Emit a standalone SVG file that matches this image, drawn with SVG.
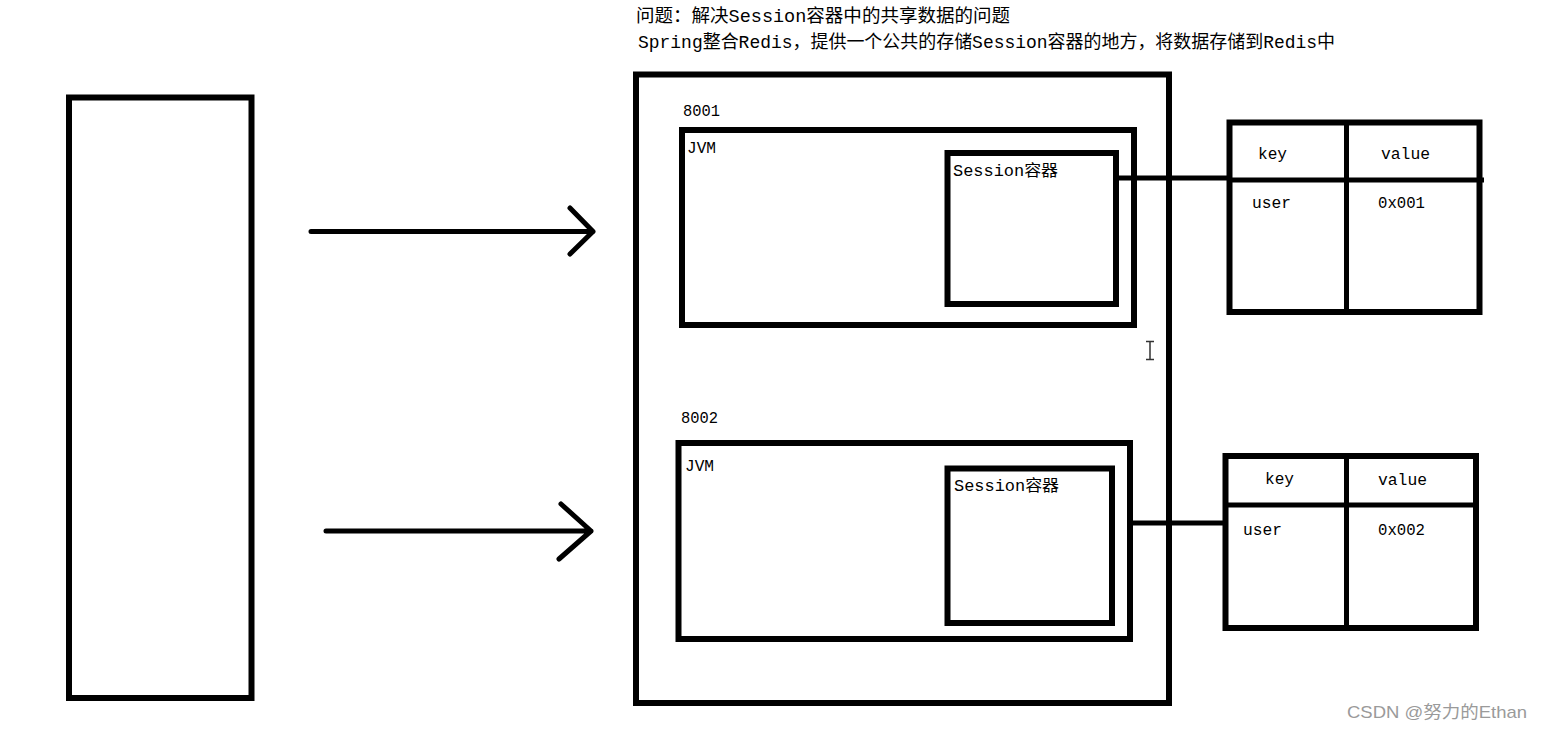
<svg xmlns="http://www.w3.org/2000/svg" width="1542" height="729" viewBox="0 0 1542 729">
<style>
.box{fill:none;stroke:#000;stroke-width:6}
.ln{fill:none;stroke:#000;stroke-width:5}
.arr{fill:none;stroke:#000;stroke-width:5;stroke-linecap:round;stroke-linejoin:round}
.t{font-family:"Liberation Mono","Noto Sans CJK SC",monospace;font-size:16px;fill:#000}
.title{font-family:"Liberation Mono","Noto Sans CJK SC",monospace;font-size:18px;fill:#000}
.wm{font-family:"Liberation Sans","Noto Sans CJK SC",sans-serif;font-size:17px;fill:#9a9a9a}
</style>
<rect width="1542" height="729" fill="#fff"/>
<g id="title">
<text class="title" x="636" y="22" textLength="374" lengthAdjust="spacingAndGlyphs">问题：解决Session容器中的共享数据的问题</text>
<text class="title" x="638" y="48" textLength="697" lengthAdjust="spacingAndGlyphs">Spring整合Redis，提供一个公共的存储Session容器的地方，将数据存储到Redis中</text>
</g>
<g id="client">
<rect class="box" x="69" y="97.5" width="182.5" height="600.5"/>
</g>
<g id="server">
<rect class="box" x="636" y="74.5" width="533" height="628.5"/>
</g>
<g id="node8001">
<text class="t" x="683" y="116" textLength="37" lengthAdjust="spacingAndGlyphs">8001</text>
<rect class="box" x="682" y="130" width="452" height="195"/>
<text class="t" x="687" y="153" textLength="29" lengthAdjust="spacingAndGlyphs">JVM</text>
</g>
<g id="session1">
<rect class="box" x="947.5" y="153" width="168.5" height="151"/>
<text class="t" x="953" y="176" textLength="105" lengthAdjust="spacingAndGlyphs">Session容器</text>
</g>
<g id="node8002">
<text class="t" x="681" y="423" textLength="37" lengthAdjust="spacingAndGlyphs">8002</text>
<rect class="box" x="678.5" y="443" width="451.5" height="196"/>
<text class="t" x="685" y="471" textLength="29" lengthAdjust="spacingAndGlyphs">JVM</text>
</g>
<g id="session2">
<rect class="box" x="947.5" y="468.5" width="164.5" height="154.5"/>
<text class="t" x="954" y="491" textLength="105" lengthAdjust="spacingAndGlyphs">Session容器</text>
</g>
<g id="redis1">
<rect class="box" x="1229.5" y="122.5" width="250" height="189.5"/>
<line class="ln" x1="1346.5" y1="122.5" x2="1346.5" y2="312"/>
<line class="ln" x1="1229.5" y1="180" x2="1484" y2="180"/>
<text class="t" x="1258" y="159" textLength="29" lengthAdjust="spacingAndGlyphs">key</text>
<text class="t" x="1381" y="159" textLength="49" lengthAdjust="spacingAndGlyphs">value</text>
<text class="t" x="1252" y="208" textLength="39" lengthAdjust="spacingAndGlyphs">user</text>
<text class="t" x="1378" y="208" textLength="47" lengthAdjust="spacingAndGlyphs">0x001</text>
</g>
<g id="redis2">
<rect class="box" x="1225.5" y="456" width="250.5" height="172"/>
<line class="ln" x1="1346.5" y1="456" x2="1346.5" y2="628"/>
<line class="ln" x1="1225.5" y1="505" x2="1473" y2="505"/>
<text class="t" x="1265" y="484" textLength="29" lengthAdjust="spacingAndGlyphs">key</text>
<text class="t" x="1378" y="485" textLength="49" lengthAdjust="spacingAndGlyphs">value</text>
<text class="t" x="1243" y="535" textLength="39" lengthAdjust="spacingAndGlyphs">user</text>
<text class="t" x="1378" y="535" textLength="47" lengthAdjust="spacingAndGlyphs">0x002</text>
</g>
<g id="connectors">
<path class="arr" d="M311 231.5 H593 M570 208 L593 231.5 L570 254"/>
<path class="arr" d="M326 531 H591 M561 504 L591 531 L559 559"/>
<line class="ln" x1="1116" y1="178" x2="1230" y2="178"/>
<line class="ln" x1="1130" y1="523" x2="1226" y2="523"/>
</g>
<g id="cursor">
<path d="M1146 341.5 H1154 M1150 341.5 V359.5 M1146 359.5 H1154" fill="none" stroke="#333" stroke-width="1.5"/>
</g>
<g id="watermark">
<text class="wm" x="1347" y="718" textLength="180" lengthAdjust="spacingAndGlyphs">CSDN @努力的Ethan</text>
</g>
</svg>
